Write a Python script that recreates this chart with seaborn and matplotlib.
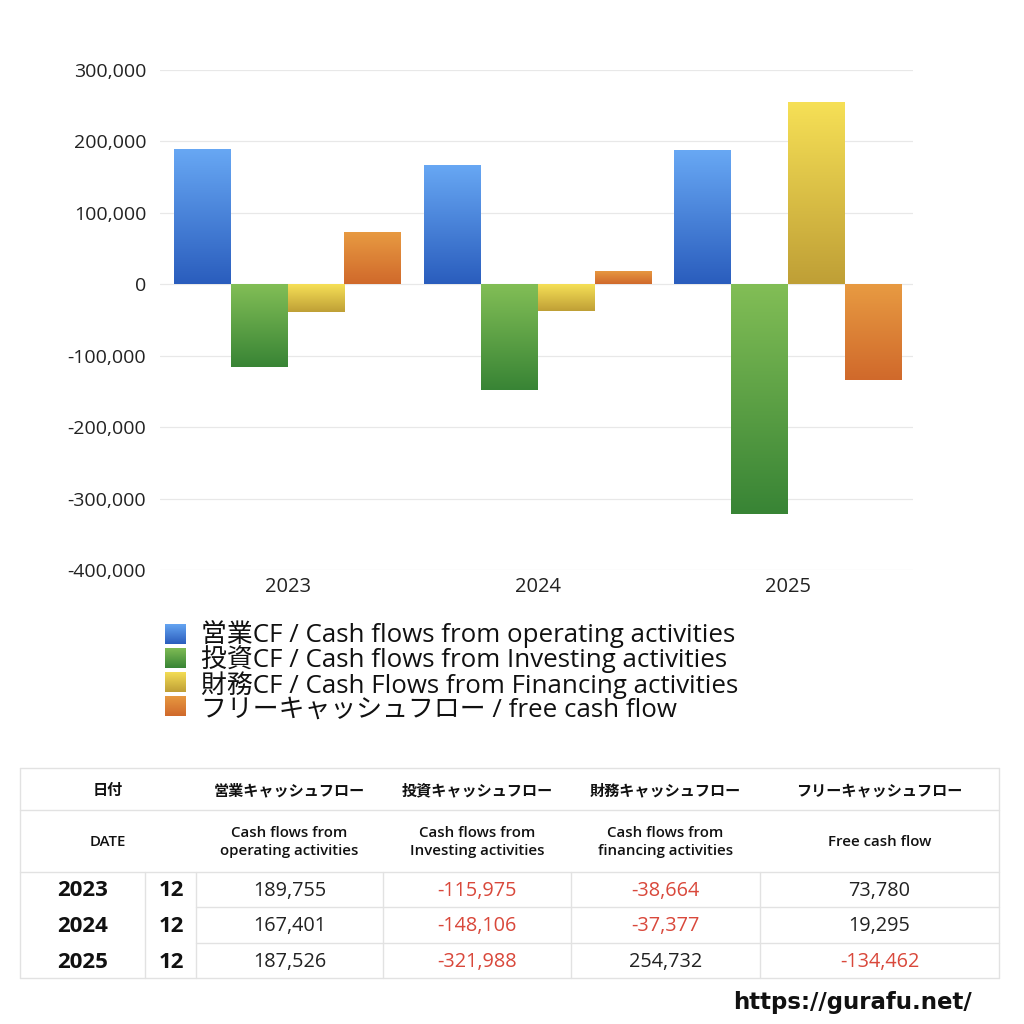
import numpy as np
import pandas as pd
import matplotlib
matplotlib.use("Agg")
import matplotlib.pyplot as plt
import seaborn as sns
from matplotlib.colors import LinearSegmentedColormap
from matplotlib.patches import Rectangle
from matplotlib.lines import Line2D

# ---------------- data ----------------
years = ["2023", "2024", "2025"]
months = ["12", "12", "12"]
operating = [189755, 167401, 187526]
investing = [-115975, -148106, -321988]
financing = [-38664, -37377, 254732]
free_cf = [73780, 19295, -134462]

series_labels = [
    "営業CF / Cash flows from operating activities",
    "投資CF / Cash flows from Investing activities",
    "財務CF / Cash Flows from Financing activities",
    "フリーキャッシュフロー / free cash flow",
]
yticks = [-400000, -300000, -200000, -100000, 0, 100000, 200000, 300000]

table_head_jp = ["日付", "営業キャッシュフロー", "投資キャッシュフロー", "財務キャッシュフロー", "フリーキャッシュフロー"]
table_head_en = ["DATE", "Cash flows from\noperating activities", "Cash flows from\nInvesting activities",
                 "Cash flows from\nfinancing activities", "Free cash flow"]
url_text = "https://gurafu.net/"

# gradient colours (top, bottom)
grad_top = ["#68a8f4", "#82be56", "#f6e056", "#e89b42"]
grad_bot = ["#2a5dbd", "#388435", "#bf9f36", "#d0692b"]
mid_cols = ["#4a82d8", "#5ea146", "#dcc048", "#dc8236"]

# ---------------- style ----------------
sns.set_theme(style="white")
FAM = ["Open Sans", "Noto Sans CJK JP", "DejaVu Sans"]
plt.rcParams["font.family"] = FAM

W = H = 1024
fig = plt.figure(figsize=(10.24, 10.24), dpi=100)

def fx(px):
    return px / W

def fy(py):
    return 1 - py / H

ax = fig.add_axes([fx(160), fy(570), fx(913) - fx(160), fy(70) - fy(570)])

df = pd.DataFrame({
    "year": years * 4,
    "value": operating + investing + financing + free_cf,
    "series": sum([[s] * 3 for s in series_labels], []),
})

sns.barplot(data=df, x="year", y="value", hue="series", hue_order=series_labels,
            palette=mid_cols, width=0.91, gap=0, dodge=True, ax=ax,
            legend=False, errorbar=None, saturation=1, linewidth=0)

ax.set_ylim(-400000, 300000)
ax.set_xlim(-0.51, 2.5)
ax.set_yticks(yticks)
ax.set_yticklabels([f"{v:,}" for v in yticks])
ax.set_xlabel("")
ax.set_ylabel("")
ax.grid(axis="y", color="#e8e8e8", linewidth=0.9)
ax.grid(axis="x", visible=False)
ax.set_axisbelow(True)
for sp in ax.spines.values():
    sp.set_visible(False)
ax.tick_params(axis="both", length=0, labelsize=14, colors="#222222")
ax.tick_params(axis="y", pad=10)
ax.tick_params(axis="x", pad=5)
for t in ax.get_xticklabels():
    t.set_fontsize(14.5)

# gradient overlay on each bar
grad = np.linspace(0, 1, 256).reshape(-1, 1)
bars = [p for p in ax.patches if isinstance(p, Rectangle)]
for i, p in enumerate(bars):
    si = i // 3
    cmap = LinearSegmentedColormap.from_list(f"g{i}", [grad_top[si], grad_bot[si]])
    x0, y0 = p.get_x(), p.get_y()
    w, h = p.get_width(), p.get_height()
    ylo, yhi = min(y0, y0 + h), max(y0, y0 + h)
    im = ax.imshow(grad, cmap=cmap, aspect="auto", extent=[x0, x0 + w, ylo, yhi],
                   origin="upper", zorder=p.get_zorder() + 0.1, interpolation="bilinear")
    im.set_clip_path(p)
ax.set_ylim(-400000, 300000)
ax.set_xlim(-0.51, 2.5)

# ---------------- legend (manual) ----------------
for i, lab in enumerate(series_labels):
    cy = 634 + 24 * i
    lax = fig.add_axes([fx(165), fy(cy + 10.5), fx(21), fx(21)])
    cmap = LinearSegmentedColormap.from_list(f"l{i}", [grad_top[i], grad_bot[i]])
    lax.imshow(grad, cmap=cmap, aspect="auto", interpolation="bilinear")
    lax.axis("off")
fig.text(fx(201), fy(671), "\n".join(series_labels), fontsize=18.6, va="center", ha="left",
         color="#111111", linespacing=0.905)

# ---------------- table ----------------
tax = fig.add_axes([0, 0, 1, 1])
tax.set_xlim(0, W)
tax.set_ylim(H, 0)
tax.axis("off")

lc = "#e2e2e2"
L, R = 20, 999
top, h1, h2 = 768, 810, 872
rows = [872, 907, 943, 978]
cols = [20, 145, 196, 383, 571, 760, 999]

def hline(y, x0, x1):
    tax.add_line(Line2D([x0, x1], [y, y], color=lc, lw=1))

def vline(x, y0, y1):
    tax.add_line(Line2D([x, x], [y0, y1], color=lc, lw=1))

hline(top, L, R)
hline(h1, L, R)
hline(h2, L, R)
hline(rows[1], 196, R)
hline(rows[2], 196, R)
hline(rows[3], L, R)
vline(L, top, rows[3])
vline(R, top, rows[3])
for x in cols[1:-1]:
    vline(x, h2, rows[3])

head_centers = [108, 289.5, 477, 665.5, 879.5]
for cx, t in zip(head_centers, table_head_jp):
    tax.text(cx, 790, t, ha="center", va="center", fontsize=10.9, fontweight="bold", color="#111111",
             family=["Noto Sans CJK JP", "DejaVu Sans"])
for cx, t in zip(head_centers, table_head_en):
    tax.text(cx, 842, t, ha="center", va="center", fontsize=10.8, color="#111111",
             linespacing=1.3, fontweight="semibold")

val_cols = [operating, investing, financing, free_cf]
val_centers = [289.5, 477, 665.5, 879.5]
red = "#d9483b"
for r, yr in enumerate(years):
    cy = (rows[r] + rows[r + 1]) / 2 + 1.5
    tax.text(83, cy, yr, ha="center", va="center", fontsize=16, fontweight="bold", color="#111111")
    tax.text(171, cy, months[r], ha="center", va="center", fontsize=16, fontweight="bold", color="#111111")
    for c, vals in enumerate(val_cols):
        v = vals[r]
        tax.text(val_centers[c], cy, f"{v:,}", ha="center", va="center", fontsize=14.3,
                 color=red if v < 0 else "#222222")

tax.text(972, 1003, url_text, ha="right", va="center", fontsize=16.5, fontweight="bold",
         color="#111111", family=["DejaVu Sans"])

fig.savefig("out.png", dpi=100, facecolor="white")
